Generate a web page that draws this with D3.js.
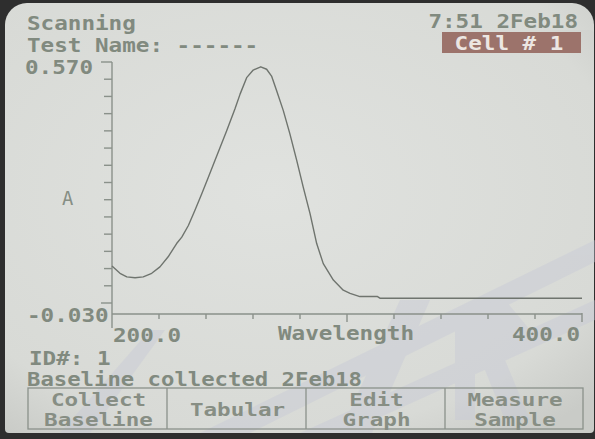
<!DOCTYPE html>
<html><head><meta charset="utf-8">
<script src="https://cdn.jsdelivr.net/npm/d3@7/dist/d3.min.js"></script>
<style>html,body{margin:0;padding:0;background:#2e2e2e;}svg{display:block;}</style>
</head><body>
<svg id="c" width="595" height="439"></svg>
<script>
// ---- data ----
const wavelength = [200, 203.4, 206.3, 209.8, 213.3, 216.9, 220.4, 223.9, 227.5, 229.7, 232.5, 235.3, 238.2, 241.0, 243.8, 248.8, 252.3, 254.5, 257.3, 260.1, 263.3, 265.8, 267.9, 270.1, 272.9, 275.7, 278.6, 281.4, 284.3, 287.1, 289.9, 294.2, 298.4, 301.3, 305.5, 313, 314, 400];
const absorbance = [0.062, 0.044, 0.035, 0.033, 0.035, 0.044, 0.060, 0.085, 0.118, 0.134, 0.163, 0.201, 0.242, 0.283, 0.325, 0.399, 0.453, 0.490, 0.531, 0.550, 0.558, 0.552, 0.535, 0.498, 0.449, 0.391, 0.325, 0.258, 0.192, 0.118, 0.068, 0.027, 0.002, -0.006, -0.014, -0.014, -0.018, -0.018];
const xDomain = [200, 400];
const yDomain = [-0.030, 0.570];
const xTickStep = 20;
const yTickIntervals = 14;
const xTickLabels = ["200.0", "400.0"];
const yTickLabels = ["0.570", "-0.030"];
const headerLines = ["Scanning", "Test Name: ------"];
const clockText = "7:51 2Feb18";
const cellText = "Cell # 1";
const statusLines = ["ID#: 1", "Baseline collected 2Feb18"];
const buttons = [["Collect", "Baseline"], ["Tabular"], ["Edit", "Graph"], ["Measure", "Sample"]];

const svg = d3.select("#c");
const FONT = "'DejaVu Sans Mono', 'Liberation Mono', monospace";
const TXT = "#818a7f";
const AX = "#8a918a";
const CW = 13.6; // LCD character cell width

// screen background
const defs = svg.append("defs");
const g1 = defs.append("radialGradient").attr("id","bg").attr("cx","45%").attr("cy","40%").attr("r","75%");
g1.append("stop").attr("offset","0%").attr("stop-color","#e0e2df");
g1.append("stop").attr("offset","80%").attr("stop-color","#d8dad6");
g1.append("stop").attr("offset","100%").attr("stop-color","#c9cbc7");
svg.append("rect").attr("width",595).attr("height",439).attr("fill","#2e2e2e");
svg.append("rect").attr("x",5).attr("y",3).attr("width",589).attr("height",430).attr("rx",22).attr("fill","url(#bg)");
svg.append("rect").attr("x",5).attr("y",30).attr("width",589).attr("height",403).attr("rx",4).attr("fill","url(#bg)");

// faint watermark bands
const wm = svg.append("g").attr("fill","#c6c8d6").attr("opacity",0.4);
wm.append("path").attr("d","M200,433 L595,240 L595,262 L250,433 Z");
wm.append("path").attr("d","M300,433 L595,300 L595,320 L345,433 Z");
wm.append("path").attr("d","M60,433 L150,330 L165,330 L90,433 Z");
wm.append("path").attr("d","M340,433 L400,300 L430,300 L372,433 Z");
wm.append("path").attr("d","M455,360 L455,310 L505,300 L530,330 L505,360 L530,420 L505,420 L485,370 L475,370 L475,420 L455,420 Z");

// scales
const x = d3.scaleLinear().domain(xDomain).range([112, 582]);
const y = d3.scaleLinear().domain(yDomain).range([303, 62]);
const xAxisY = 314;

const ax = svg.append("g").attr("stroke", AX).attr("stroke-width", 1.4).attr("fill","none");
ax.append("line").attr("x1",112).attr("x2",112).attr("y1",y(yDomain[1])).attr("y2",328);
const yTicks = d3.range(yTickIntervals + 1).map(i => yDomain[0] + i * (yDomain[1] - yDomain[0]) / yTickIntervals);
yTicks.forEach((t, i) => {
  const end = (i === 0 || i === yTickIntervals);
  ax.append("line").attr("x1", end ? 101 : 104).attr("x2",112).attr("y1",y(t)).attr("y2",y(t));
});
ax.append("line").attr("x1",112).attr("x2",x(xDomain[1])).attr("y1",xAxisY).attr("y2",xAxisY);
d3.range(xDomain[0] + xTickStep, xDomain[1] + 0.1, xTickStep).forEach(t => {
  const big = (t === 300 || t === 400);
  ax.append("line").attr("x1",x(t)).attr("x2",x(t)).attr("y1",xAxisY - (t===400?1:0)).attr("y2",xAxisY + (big ? 8 : 5));
});

// curve
const pts = wavelength.map((w, i) => [w, absorbance[i]]);
svg.append("path").datum(pts)
  .attr("d", d3.line().x(d => x(d[0])).y(d => y(d[1])))
  .attr("fill","none").attr("stroke","#6f746e").attr("stroke-width",1.4).attr("stroke-linejoin","round");

// text helper: monospaced LCD text stretched to the LCD cell width
function txt(s, xx, yy, opts = {}) {
  const t = svg.append("text").attr("x", xx).attr("y", yy)
    .attr("font-family", FONT).attr("font-size", opts.size || 18.8)
    .attr("font-weight", opts.weight || "bold")
    .attr("fill", opts.fill || TXT)
    .attr("text-anchor", opts.anchor || "start")
    .attr("xml:space","preserve")
    .style("white-space","pre")
    .text(s);
  if (s.length > 1) t.attr("textLength", s.length * (opts.cw || CW)).attr("lengthAdjust","spacingAndGlyphs");
  return t;
}
txt(headerLines[0], 27, 30);
txt(headerLines[1], 27, 52);
txt(clockText, 578, 28, {anchor:"end"});
svg.append("rect").attr("x",442).attr("y",32).attr("width",139).attr("height",21).attr("fill","#9c736b");
txt(cellText, 509, 50, {anchor:"middle", fill:"#ece6e2"});

txt(yTickLabels[0], 25, 74);
txt(yTickLabels[1], 27, 322);
txt("A", 62, 205, {weight:"normal", fill:"#868e84"});
txt(xTickLabels[0], 113, 342);
txt("Wavelength", 278, 340);
txt(xTickLabels[1], 580, 341, {anchor:"end"});

txt(statusLines[0], 29, 365);
txt(statusLines[1], 27, 385.5, {cw: 13.4});

// button bar
const bx = [28, 167, 306, 445, 583];
const bb = svg.append("g").attr("stroke", AX).attr("stroke-width",1.3).attr("fill","none");
bb.append("rect").attr("x",bx[0]).attr("y",388).attr("width",bx[4]-bx[0]).attr("height",41);
bx.slice(1,4).forEach(v => bb.append("line").attr("x1",v).attr("x2",v).attr("y1",388).attr("y2",429));
buttons.forEach((lines, i) => {
  const cx = (bx[i] + bx[i+1]) / 2 + 1;
  const o = {anchor:"middle", fill:"#878e84", size:17};
  if (lines.length === 1) txt(lines[0], cx, 416, o);
  else {
    txt(lines[0], cx, 406, o);
    txt(lines[1], cx, 426, o);
  }
});
</script>
</body></html>
